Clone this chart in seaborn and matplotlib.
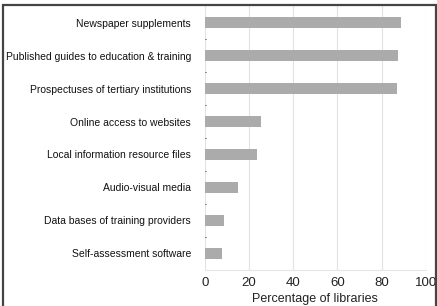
import matplotlib
matplotlib.use('Agg')
import matplotlib.pyplot as plt
import seaborn as sns
import pandas as pd
from matplotlib.patches import Rectangle

# Data
categories = ['Newspaper supplements',
              'Published guides to education & training',
              'Prospectuses of tertiary institutions',
              'Online access to websites',
              'Local information resource files',
              'Audio-visual media',
              'Data bases of training providers',
              'Self-assessment software']
percentages = [88.9, 87.4, 87.0, 25.3, 23.5, 14.9, 8.5, 7.9]
x_ticks = [0, 20, 40, 60, 80, 100]

data = pd.DataFrame({'category': categories, 'pct': percentages})

sns.set_style('white')
plt.rcParams['font.family'] = ['Liberation Sans', 'DejaVu Sans']

fig = plt.figure(figsize=(4.37, 3.06), dpi=100)
ax = fig.add_axes([0.469, 0.118, 0.505, 0.862])

sns.barplot(data=data, x='pct', y='category', color='#ababab',
            saturation=1, width=0.32, linewidth=0, ax=ax)

ax.set_xlim(0, 100)
ax.set_ylim(7.5, -0.5)
ax.set_xticks(x_ticks)
ax.tick_params(axis='x', labelsize=9.5, colors='#222222', length=0, pad=5)
ax.tick_params(axis='y', labelsize=7.5, colors='#111111', length=0, pad=10)
ax.set_xlabel('Percentage of libraries', fontsize=9, color='#222222', labelpad=3)
ax.set_ylabel('')
ax.xaxis.grid(True, color='#e2e2e2', linewidth=0.8)
ax.set_axisbelow(True)
for side in ['top', 'right', 'left']:
    ax.spines[side].set_visible(False)
ax.spines['bottom'].set_color('#e6e6e6')
ax.spines['bottom'].set_linewidth(0.8)

# small category separator dots on the left
for k in range(1, len(categories)):
    ax.plot([0, 0.6], [k - 0.5, k - 0.5], color='#888888', linewidth=0.8,
            clip_on=False)

# outer frame
fig.patches.append(Rectangle((3 / 437, -0.05), 433 / 437, 1 - 5 / 306 + 0.05,
                             transform=fig.transFigure, fill=False,
                             edgecolor='#444444', linewidth=1.6))

fig.savefig('out.png', dpi=100)
